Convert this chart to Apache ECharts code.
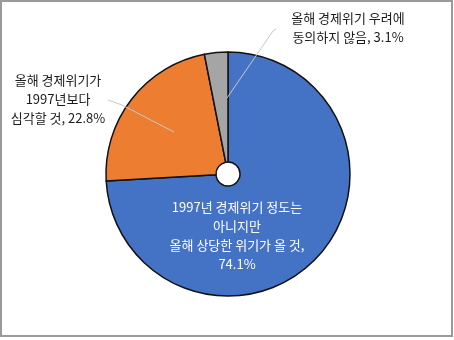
<!DOCTYPE html>
<html><head><meta charset="utf-8">
<script src="https://cdn.jsdelivr.net/npm/echarts@6/dist/echarts.min.js"></script>
<style>html,body{margin:0;padding:0;background:#fff}#c{width:454px;height:340px}</style>
</head><body><div id="c"></div>
<script>
var categories = ['1997년 경제위기 정도는\n아니지만\n올해 상당한 위기가 올 것', '올해 경제위기가\n1997년보다\n심각할 것', '올해 경제위기 우려에\n동의하지 않음'];
var values = [74.1, 22.8, 3.1];
var separators = [',\n', ', ', ', '];
var colors = ['#4472C4', '#ED7D31', '#A5A5A5'];

var labelPos = [
  {x: 237, y: 236, color: '#ffffff'},
  {x: 58, y: 99, color: '#1a1a1a'},
  {x: 348, y: 28, color: '#1a1a1a'}
];
var leaderLines = [
  [[108, 100], [122, 105], [174, 132]],
  [[276, 29], [273, 31], [227, 98]]
];

var chart = echarts.init(document.getElementById('c'));
chart.setOption({
  backgroundColor: '#ffffff',
  animation: false,
  graphic: [{type: 'rect', shape: {x: 1, y: 1, width: 451, height: 335}, style: {fill: 'none', stroke: '#9a9a9a', lineWidth: 2}, silent: true, z: 100}]
    .concat(leaderLines.map(function (pts) {
      return {type: 'polyline', shape: {points: pts}, style: {fill: 'none', stroke: '#c8c8c8', lineWidth: 1}, silent: true, z: 100};
    })),
  series: [{
    type: 'pie',
    center: [228, 174],
    radius: [12, 122],
    startAngle: 90,
    clockwise: true,
    data: categories.map(function (c, i) {
      return {name: c, value: values[i], itemStyle: {color: colors[i]},
        label: {color: labelPos[i].color}};
    }),
    itemStyle: {borderColor: '#111111', borderWidth: 1.5},
    label: {
      show: true,
      fontFamily: 'Noto Sans CJK KR',
      fontSize: 13,
      lineHeight: 19,
      align: 'center',
      overflow: 'none',
      width: 300,
      formatter: function (p) { return p.name + separators[p.dataIndex] + p.value.toFixed(1) + '%'; }
    },
    labelLine: {show: false},
    labelLayout: function (p) {
      var lp = labelPos[p.dataIndex];
      return {x: lp.x, y: lp.y, align: 'center', verticalAlign: 'middle'};
    }
  }]
});
</script></body></html>
